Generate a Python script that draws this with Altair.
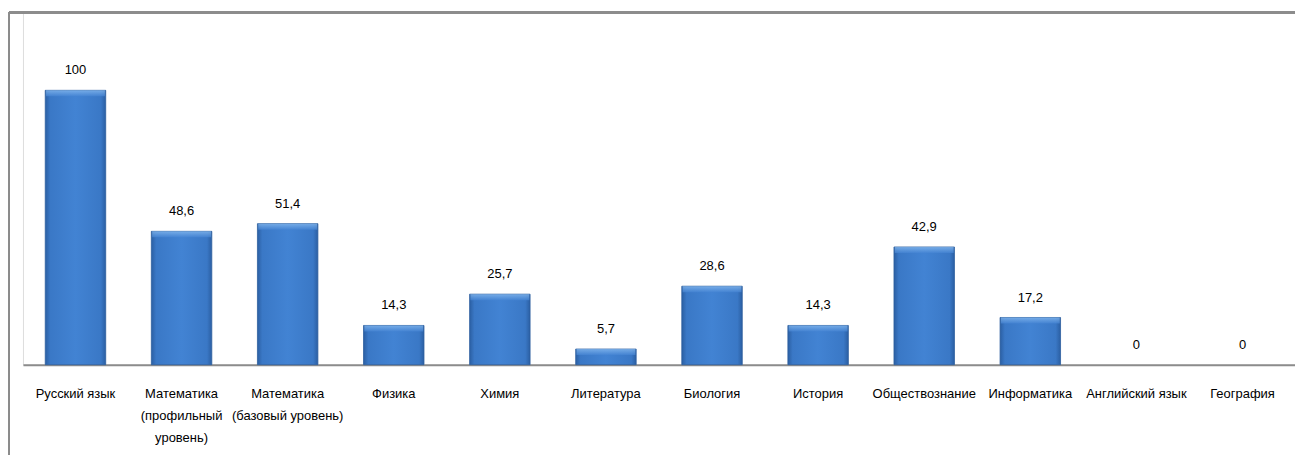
import altair as alt
import pandas as pd

categories = [
    "Русский язык",
    "Математика\n(профильный\nуровень)",
    "Математика\n(базовый уровень)",
    "Физика",
    "Химия",
    "Литература",
    "Биология",
    "История",
    "Обществознание",
    "Информатика",
    "Английский язык",
    "География",
]
values = [100, 48.6, 51.4, 14.3, 25.7, 5.7, 28.6, 14.3, 42.9, 17.2, 0, 0]

df = pd.DataFrame({"cat": categories, "value": values})

FONT = "Liberation Sans Narrow, Liberation Sans, Arial, sans-serif"
W, H = 1275, 353

x_enc = alt.X("cat:N", sort=categories, title=None,
              scale=alt.Scale(paddingInner=0.43, paddingOuter=0.21),
              axis=alt.Axis(labelAngle=0, labelExpr="split(datum.label, '\\n')",
                            labelFontSize=13, labelFont=FONT, labelColor="#000",
                            labelPadding=23, labelLineHeight=22, ticks=False,
                            domainColor="#8c8c8c", domainWidth=2, labelLimit=200))
y_enc = alt.Y("value:Q", scale=alt.Scale(domain=[0, H / 2.75], nice=False),
              axis=None)

base = alt.Chart(df).encode(x=x_enc, y=y_enc)

bars = base.mark_bar(
    color=alt.Gradient(gradient="linear", x1=0, x2=1, y1=0, y2=0,
                       stops=[alt.GradientStop(offset=0, color="#2B5FA3"),
                              alt.GradientStop(offset=0.08, color="#3A78C6"),
                              alt.GradientStop(offset=0.5, color="#4283D3"),
                              alt.GradientStop(offset=0.92, color="#3A78C6"),
                              alt.GradientStop(offset=1, color="#2B5FA3")]),
    stroke="#2C5E9E", strokeWidth=0.8,
).transform_filter("datum.value > 0")

bevel = base.mark_tick(
    size=59, thickness=6, yOffset=3,
    color=alt.Gradient(gradient="linear", x1=0, x2=0, y1=0, y2=1,
                       stops=[alt.GradientStop(offset=0, color="#8DBFF2"),
                              alt.GradientStop(offset=1, color="#4685D4")]),
).transform_filter("datum.value > 0")

labels = base.mark_text(baseline="bottom", dy=-13, fontSize=13, font=FONT,
                        color="#000").encode(
    text="lbl:N").transform_calculate(lbl="replace(toString(datum.value), '.', ',')")

frame_top = alt.Chart(df).mark_rule(color="#8c8c8c", strokeWidth=2, clip=False).encode(
    x=alt.value(-14), x2=alt.value(W + 20), y=alt.value(0))
frame_left = alt.Chart(df).mark_rule(color="#8c8c8c", strokeWidth=2, clip=False).encode(
    x=alt.value(-14), y=alt.value(0), y2=alt.value(H + 120))

chart = alt.layer(frame_top, frame_left, bars, bevel, labels).properties(
    width=W, height=H,
    autosize=alt.AutoSizeParams(type="none"),
    padding={"left": 15, "top": 4, "right": 0, "bottom": 90},
).configure_view(stroke=None).configure(background="white")

chart.save("out.html", embed_options={"renderer": "svg", "actions": False})
